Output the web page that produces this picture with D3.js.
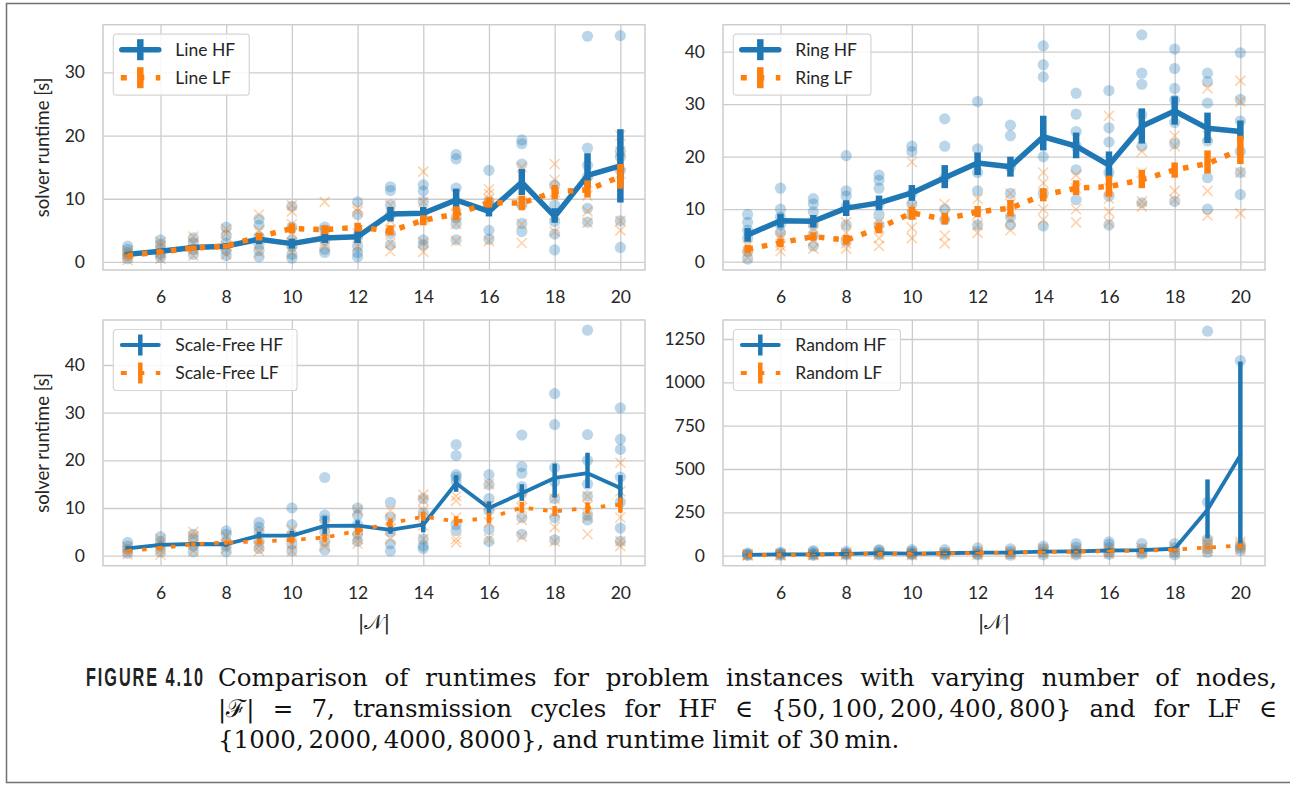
<!DOCTYPE html>
<html lang="en">
<head>
<meta charset="UTF-8">
<title>Solver runtime by number of nodes</title>
<script src="https://d3js.org/d3.v7.min.js"></script>
<style>
    body {
        margin: 0;
        background: #ffffff;
    }

    svg text {
        font-family: Lato, "Open Sans", sans-serif;
        fill: #262626;
    }

    .caption {
        font-family: "DejaVu Serif", "Liberation Serif", serif;
        font-size: 24.5px;
        fill: #111;
    }

    .fig-label {
        font-family: "Liberation Sans", sans-serif;
        font-weight: bold;
        font-size: 25px;
        letter-spacing: 3px;
        fill: #222;
    }
</style>
</head>
<body>
<svg id="fig" width="1290" height="785"></svg>

<script>
// x values (number of nodes) and ticks
const nodes = [5, 6, 7, 8, 9, 10, 11, 12, 13, 14, 15, 16, 17, 18, 19, 20];
const xTicks = [6, 8, 10, 12, 14, 16, 18, 20];

// ---- Line topology ----
const lineHfMean = [1.2, 1.7, 2.3, 2.5, 3.6, 2.9, 3.8, 4.0, 7.6, 7.7, 9.8, 8.0, 12.6, 7.2, 13.7, 15.2];
const lineHfLow  = [0.9, 1.3, 1.9, 2.0, 2.8, 2.1, 3.0, 3.0, 6.4, 6.6, 8.2, 7.2, 10.6, 6.2, 11.9, 9.4];
const lineHfHigh = [1.5, 2.1, 2.7, 3.0, 4.4, 3.7, 4.6, 5.0, 8.7, 8.7, 11.6, 8.9, 14.7, 8.5, 17.2, 21.0];
const lineLfMean = [1.0, 1.6, 2.2, 2.5, 4.0, 5.3, 5.1, 5.5, 4.9, 6.6, 7.6, 9.4, 9.3, 11.1, 11.4, 13.5];
const lineLfLow  = [0.8, 1.3, 1.8, 2.1, 3.4, 4.5, 4.4, 4.8, 4.2, 5.8, 6.6, 8.6, 8.2, 9.9, 10.2, 11.6];
const lineLfHigh = [1.2, 1.9, 2.6, 2.9, 4.6, 6.1, 5.8, 6.2, 5.8, 7.4, 8.8, 10.2, 10.5, 12.2, 12.9, 15.5];
const lineHfPts = [
    [0.5, 1.0, 1.5, 2.0, 2.5], [0.7, 1.2, 2.0, 2.8, 3.5], [1.2, 2.0, 3.0, 3.8], [1.0, 1.8, 3.0, 4.2, 5.5],
    [0.8, 1.8, 2.8, 4.0, 5.8, 6.8], [0.6, 1.2, 2.5, 3.5, 5.5, 8.8], [1.5, 2.0, 3.5, 5.0, 5.5], [0.8, 1.5, 2.5, 4.0, 7.5, 9.5],
    [2.7, 4.5, 7.5, 9.0, 11.3, 11.9], [2.7, 3.5, 9.5, 11.2, 12.2], [3.5, 6.0, 7.0, 11.7, 16.3, 17.0], [3.6, 5.0, 9.0, 9.5, 14.5],
    [4.8, 6.1, 9.0, 15.5, 18.7, 19.3], [1.9, 4.4, 6.4, 9.0, 12.2], [6.3, 8.5, 13.5, 15.3, 18.0, 35.7], [2.3, 6.5, 14.5, 16.6, 17.5, 35.8]
];
const lineLfPts = [
    [0.3, 0.8, 1.3, 1.8], [0.5, 1.5, 2.5, 3.2], [1.0, 2.0, 3.0, 4.0], [1.2, 2.5, 4.5, 5.2],
    [1.5, 3.0, 5.0, 7.5], [1.5, 3.0, 4.5, 6.0, 8.0, 9.0], [2.5, 3.5, 5.0, 9.5], [2.5, 4.5, 8.0, 8.5],
    [1.7, 3.0, 5.0, 6.5, 9.0], [1.6, 3.1, 6.8, 9.5, 14.3], [3.3, 6.0, 7.5, 9.0], [3.3, 9.0, 10.0, 10.8, 11.5],
    [3.0, 6.0, 9.5, 15.0], [4.8, 7.5, 11.0, 13.0, 15.5], [6.2, 8.0, 10.5, 12.5], [5.0, 6.5, 14.0, 17.5, 20.0]
];

// ---- Ring topology ----
const ringHfMean = [5.1, 7.8, 7.7, 10.2, 11.2, 13.1, 16.0, 18.8, 18.1, 23.8, 22.0, 18.4, 25.8, 28.7, 25.4, 24.8];
const ringHfLow  = [3.8, 6.5, 6.5, 8.7, 9.8, 11.6, 14.0, 16.5, 16.2, 21.2, 19.7, 16.0, 22.5, 26.1, 22.6, 23.3];
const ringHfHigh = [6.4, 9.1, 8.9, 11.7, 12.6, 14.6, 18.4, 20.8, 20.0, 27.8, 24.6, 21.0, 29.2, 31.5, 28.4, 26.9];
const ringLfMean = [2.4, 3.6, 4.8, 4.1, 6.4, 9.3, 8.1, 9.5, 10.2, 12.7, 14.0, 14.3, 15.6, 17.5, 18.7, 21.3];
const ringLfLow  = [1.6, 2.8, 4.0, 3.3, 5.4, 8.0, 7.1, 8.5, 8.6, 11.5, 12.7, 12.4, 14.0, 16.0, 16.8, 18.6];
const ringLfHigh = [3.2, 4.4, 5.6, 5.1, 7.4, 10.5, 9.3, 10.6, 11.8, 14.0, 15.5, 16.4, 17.5, 18.9, 21.2, 24.0];
const ringHfPts = [
    [0.5, 2.0, 4.5, 6.0, 7.5, 9.0], [5.5, 7.0, 8.5, 10.0, 14.0], [3.0, 5.0, 7.0, 9.5, 11.0, 12.0], [4.0, 7.0, 10.5, 12.5, 13.5, 20.2],
    [7.0, 9.0, 11.0, 14.0, 15.5, 16.5], [9.0, 11.0, 13.0, 21.0, 22.0], [8.0, 10.0, 16.0, 22.0, 27.2], [7.0, 13.5, 17.0, 21.5, 30.5],
    [7.0, 8.5, 13.0, 18.0, 24.0, 26.0], [6.8, 13.0, 20.0, 35.2, 37.5, 41.1], [11.8, 17.5, 22.0, 24.8, 28.1, 32.1], [7.0, 12.5, 17.0, 22.8, 25.5, 32.6],
    [11.2, 22.0, 28.0, 33.8, 35.9, 43.2], [11.5, 22.5, 26.5, 30.8, 33.0, 36.8, 40.5], [10.0, 16.0, 23.0, 30.2, 34.3, 35.9], [12.8, 17.0, 21.0, 26.8, 30.9, 39.8]
];
const ringLfPts = [
    [0.8, 2.0, 3.0], [2.0, 3.0, 4.5, 5.0], [2.5, 4.0, 6.5, 7.5], [2.5, 3.5, 5.5, 7.5],
    [3.0, 4.5, 6.5, 7.5], [4.5, 6.5, 9.0, 10.5, 19.0], [3.5, 5.0, 9.0, 11.0], [5.5, 7.0, 9.0, 12.0],
    [6.0, 8.0, 11.0, 13.0], [8.0, 10.0, 13.0, 15.0, 17.0], [7.5, 10.0, 14.0, 16.5], [7.5, 9.5, 12.0, 14.0, 27.8],
    [10.5, 11.5, 17.0, 21.0], [11.8, 13.5, 22.0, 24.0], [8.8, 13.5, 24.0, 33.0], [9.2, 17.0, 30.5, 34.5]
];

// ---- Scale-Free topology ----
const sfHfMean = [1.55, 2.25, 2.45, 2.4, 4.2, 4.2, 6.25, 6.3, 5.4, 6.5, 15.2, 10.0, 13.1, 16.3, 17.3, 14.2];
const sfHfLow  = [1.1, 1.8, 2.0, 1.9, 3.4, 3.2, 4.3, 5.2, 4.6, 4.9, 13.4, 8.8, 11.5, 12.2, 14.2, 10.6];
const sfHfHigh = [2.0, 2.7, 2.9, 2.9, 5.0, 5.2, 8.3, 7.4, 6.4, 8.0, 16.9, 11.4, 15.0, 19.3, 21.6, 16.9];
const sfLfMean = [1.0, 1.6, 2.4, 2.75, 3.0, 3.3, 3.8, 5.2, 6.8, 8.2, 7.2, 7.9, 10.1, 9.3, 10.0, 10.7];
const sfLfLow  = [0.7, 1.2, 2.0, 2.3, 2.4, 2.6, 2.9, 4.3, 6.0, 7.3, 6.2, 6.8, 9.0, 8.3, 8.8, 9.0];
const sfLfHigh = [1.3, 2.0, 2.8, 3.2, 3.6, 4.0, 4.6, 5.9, 7.8, 9.2, 8.3, 9.0, 11.3, 10.4, 11.2, 12.2];
const sfHfPts = [
    [0.5, 1.2, 2.0, 2.8], [0.8, 2.0, 3.0, 4.0], [0.8, 2.0, 3.5, 4.5], [0.8, 2.0, 3.0, 4.5, 5.2],
    [1.5, 3.0, 5.0, 6.0, 7.0], [1.0, 2.5, 4.5, 6.5, 10.0], [1.2, 3.0, 5.0, 7.5, 8.5, 16.4], [3.0, 4.5, 6.5, 8.5, 10.0],
    [1.0, 2.5, 5.0, 8.0, 11.2], [1.5, 2.0, 3.5, 9.0, 12.0], [5.3, 6.5, 15.5, 16.5, 17.0, 21.0, 23.3], [3.0, 5.5, 9.5, 12.0, 14.9, 17.0],
    [4.5, 8.0, 13.0, 14.5, 17.3, 18.7, 25.3], [3.3, 8.0, 12.0, 15.5, 18.5, 27.5, 34.0], [7.5, 8.5, 12.5, 15.0, 20.0, 25.4, 47.3], [3.0, 5.8, 11.2, 16.5, 22.3, 24.4, 31.0]
];
const sfLfPts = [
    [0.3, 1.0, 1.8], [0.2, 1.2, 2.5, 3.5], [1.0, 2.5, 4.0, 5.0], [1.5, 2.5, 4.0],
    [1.0, 2.0, 3.5, 5.0], [1.0, 2.5, 4.0, 5.5], [2.0, 3.0, 5.0, 6.5], [2.5, 3.5, 5.5, 9.5],
    [3.5, 5.5, 7.5, 9.5], [3.5, 6.3, 9.5, 11.6, 12.8], [2.8, 3.5, 8.0, 11.5, 12.5], [3.5, 7.0, 10.5, 15.0],
    [4.0, 7.5, 10.0, 12.0], [3.0, 6.0, 9.0, 12.0], [4.5, 8.0, 10.5, 12.5], [2.0, 3.0, 8.0, 13.5, 19.5]
];

// ---- Random topology ----
const rndHfMean = [5, 8, 8, 11, 15, 12, 14, 18, 18, 24, 25, 30, 32, 40, 265, 580];
const rndHfLow  = [2, 4, 4, 6, 9, 6, 8, 10, 10, 14, 14, 18, 20, 26, 100, 52];
const rndHfHigh = [8, 12, 12, 16, 21, 18, 20, 26, 26, 34, 36, 42, 44, 54, 440, 1120];
const rndLfMean = [3, 5, 6, 9, 11, 10, 13, 16, 17, 21, 23, 27, 29, 35, 47, 58];
const rndLfLow  = [1, 3, 3, 6, 7, 6, 9, 11, 12, 15, 17, 20, 22, 27, 38, 45];
const rndLfHigh = [5, 7, 9, 12, 15, 14, 17, 21, 22, 27, 29, 34, 36, 43, 56, 71];
const rndHfPts = [
    [2, 5, 10, 15], [3, 8, 15, 20], [2, 6, 12, 22, 30], [5, 10, 15, 25],
    [5, 10, 20, 30, 35], [5, 10, 15, 25, 35], [5, 10, 20, 35], [5, 10, 25, 45],
    [3, 12, 25, 40], [5, 20, 40, 55], [5, 15, 30, 50, 70], [8, 20, 45, 65, 80],
    [10, 20, 40, 70], [5, 20, 45, 70], [20, 40, 70, 95, 310, 1295], [30, 45, 60, 1125]
];
const rndLfPts = [
    [1, 3, 8], [2, 5, 12], [3, 6, 10], [4, 8, 15],
    [5, 10, 20], [3, 8, 18], [5, 12, 20], [5, 15, 25],
    [8, 15, 25], [10, 25, 40], [10, 20, 35], [12, 25, 40],
    [15, 25, 45], [15, 30, 50], [25, 45, 65, 80], [35, 50, 65, 80]
];

const blue = "#1f77b4", orange = "#ff7f0e";

// panel setup (positions / styles)
const panels = [
    { name: "Line", hf: [lineHfMean, lineHfLow, lineHfHigh, lineHfPts], lf: [lineLfMean, lineLfLow, lineLfHigh, lineLfPts],
      yDomain: [-1.27, 37.53], yTicks: [0, 10, 20, 30], box: { x: 103, y: 24.7, w: 542, h: 245.3 },
      lw: 5.5, bw: 6.5, dash: "5.5,9", ylabel: true, xlabel: false },
    { name: "Ring", hf: [ringHfMean, ringHfLow, ringHfHigh, ringHfPts], lf: [ringLfMean, ringLfLow, ringLfHigh, ringLfPts],
      yDomain: [-1.58, 45.14], yTicks: [0, 10, 20, 30, 40], box: { x: 723, y: 24.7, w: 542, h: 245.3 },
      lw: 5.5, bw: 6.5, dash: "5.5,9", ylabel: false, xlabel: false },
    { name: "Scale-Free", hf: [sfHfMean, sfHfLow, sfHfHigh, sfHfPts], lf: [sfLfMean, sfLfLow, sfLfHigh, sfLfPts],
      yDomain: [-2.1, 49.44], yTicks: [0, 10, 20, 30, 40], box: { x: 103, y: 320, w: 542, h: 245.7 },
      lw: 3.8, bw: 4.5, dash: "4.5,10", ylabel: true, xlabel: true },
    { name: "Random", hf: [rndHfMean, rndHfLow, rndHfHigh, rndHfPts], lf: [rndLfMean, rndLfLow, rndLfHigh, rndLfPts],
      yDomain: [-57.7, 1359.6], yTicks: [0, 250, 500, 750, 1000, 1250], box: { x: 723, y: 320, w: 542, h: 245.7 },
      lw: 3.8, bw: 4.5, dash: "4.5,10", ylabel: false, xlabel: true }
];

const svg = d3.select("#fig");

// page frame of the figure
svg.append("path")
    .attr("d", "M1290,3.5H6.5V782.5H1290")
    .attr("fill", "none")
    .attr("stroke", "#707070")
    .attr("stroke-width", 1.5);

function drawPanel(p) {
    const w = p.box.w, h = p.box.h;
    const g = svg.append("g").attr("transform", `translate(${p.box.x},${p.box.y})`);
    const x = d3.scaleLinear().domain([4.25, 20.75]).range([0, w]);
    const y = d3.scaleLinear().domain(p.yDomain).range([h, 0]);

    // grid + tick labels
    const ax = g.append("g").attr("transform", `translate(0,${h})`)
        .call(d3.axisBottom(x).tickValues(xTicks).tickSize(-h).tickFormat(d3.format("d")));
    const ay = g.append("g")
        .call(d3.axisLeft(y).tickValues(p.yTicks).tickSize(-w).tickFormat(d3.format("d")));
    [ax, ay].forEach(a => {
        a.attr("font-family", null).attr("font-size", null);
        a.select(".domain").remove();
        a.selectAll("line").attr("stroke", "#cccccc").attr("stroke-width", 1.3);
        a.selectAll("text").attr("fill", null).style("font-size", "17.5px");
    });
    ax.selectAll("text").attr("y", 33).attr("dy", null);
    ay.selectAll("text").attr("x", -18);

    // raw points
    const hfFlat = nodes.flatMap((n, i) => p.hf[3][i].map(v => [n, v]));
    const lfFlat = nodes.flatMap((n, i) => p.lf[3][i].map(v => [n, v]));
    g.append("g").selectAll("circle").data(hfFlat).join("circle")
        .attr("cx", d => x(d[0])).attr("cy", d => y(d[1])).attr("r", 5.6)
        .attr("fill", blue).attr("fill-opacity", 0.3);
    g.append("g").selectAll("path").data(lfFlat).join("path")
        .attr("d", d => {
            const cx = x(d[0]), cy = y(d[1]), s = 5;
            return `M${cx - s},${cy - s}L${cx + s},${cy + s}M${cx - s},${cy + s}L${cx + s},${cy - s}`;
        })
        .attr("stroke", orange).attr("stroke-width", 1.6).attr("stroke-opacity", 0.35).attr("fill", "none");

    // mean lines with CI bars
    const line = d3.line().x((d, i) => x(nodes[i])).y(d => y(d));
    [[p.hf, blue, null], [p.lf, orange, p.dash]].forEach(([s, col, dash]) => {
        g.append("path").datum(s[0]).attr("d", line)
            .attr("fill", "none").attr("stroke", col).attr("stroke-width", p.lw)
            .attr("stroke-linejoin", "round").attr("stroke-linecap", dash ? "butt" : "round")
            .attr("stroke-dasharray", dash);
        g.append("g").selectAll("line").data(nodes).join("line")
            .attr("x1", d => x(d)).attr("x2", d => x(d))
            .attr("y1", (d, i) => y(s[1][i])).attr("y2", (d, i) => y(s[2][i]))
            .attr("stroke", col).attr("stroke-width", p.bw);
    });

    // axes frame
    g.append("rect").attr("width", w).attr("height", h)
        .attr("fill", "none").attr("stroke", "#cccccc").attr("stroke-width", 1.5);

    // legend
    const lg = g.append("g").attr("transform", "translate(10.3,9.5)");
    const box = lg.append("rect").attr("height", 61).attr("rx", 3)
        .attr("fill", "#ffffff").attr("fill-opacity", 0.85)
        .attr("stroke", "#d6d6d6").attr("stroke-width", 1.2);
    const items = [[p.name + " HF", blue, null, 15.5], [p.name + " LF", orange, "6,11.5", 43.5]];
    let maxW = 0;
    items.forEach(([label, col, dash, yy]) => {
        lg.append("line").attr("x1", dash ? 7.5 : 8.5).attr("x2", dash ? 47 : 45.5).attr("y1", yy).attr("y2", yy)
            .attr("stroke", col).attr("stroke-width", p.lw)
            .attr("stroke-linecap", dash ? "butt" : "round").attr("stroke-dasharray", dash);
        lg.append("line").attr("x1", 27).attr("x2", 27).attr("y1", yy - 10.5).attr("y2", yy + 10.5)
            .attr("stroke", col).attr("stroke-width", p.bw);
        const t = lg.append("text").attr("x", 62).attr("y", yy + 6).style("font-size", "17.5px").text(label);
        maxW = Math.max(maxW, t.node().getComputedTextLength());
    });
    box.attr("width", 62 + maxW + 14);

    if (p.ylabel) {
        svg.append("text")
            .attr("transform", `translate(43,${p.box.y + h / 2}) rotate(-90)`)
            .attr("text-anchor", "middle").attr("dy", "0.35em")
            .style("font-size", "18.5px")
            .text("solver runtime [s]");
    }
    if (p.xlabel) {
        svg.append("text")
            .attr("x", p.box.x + w / 2).attr("y", p.box.y + h + 63)
            .attr("text-anchor", "middle")
            .style("font-family", "'DejaVu Serif', serif").style("font-size", "20px")
            .text("|\u{1D4A9}|");
    }
}

panels.forEach(drawPanel);

// caption label: condensed, letter-spaced, squeezed to its width in the reference
const figLabel = svg.append("text").attr("class", "fig-label").text("FIGURE 4.10");
const labelW = figLabel.node().getComputedTextLength();
figLabel.attr("transform", `translate(86,686) scale(${119 / labelW},1)`);

// justified caption lines: stretch the word spacing to the target width
const captionLines = [
    ["Comparison of runtimes for problem instances with varying number of nodes,", 1059],
    ["|\u2131| = 7, transmission cycles for HF \u2208 {50,\u2009100,\u2009200,\u2009400,\u2009800} and for LF \u2208", 1059],
    ["{1000,\u20092000,\u20094000,\u20098000}, and runtime limit of 30\u2009min.", null]
];
captionLines.forEach(([txt, len], i) => {
    const t = svg.append("text").attr("class", "caption")
        .attr("x", 218).attr("y", 686 + i * 31)
        .text(txt);
    if (len) {
        const natural = t.node().getComputedTextLength();
        const gaps = txt.split(" ").length - 1;
        t.attr("word-spacing", (len - natural) / gaps);
    }
});
</script>
</body>
</html>
